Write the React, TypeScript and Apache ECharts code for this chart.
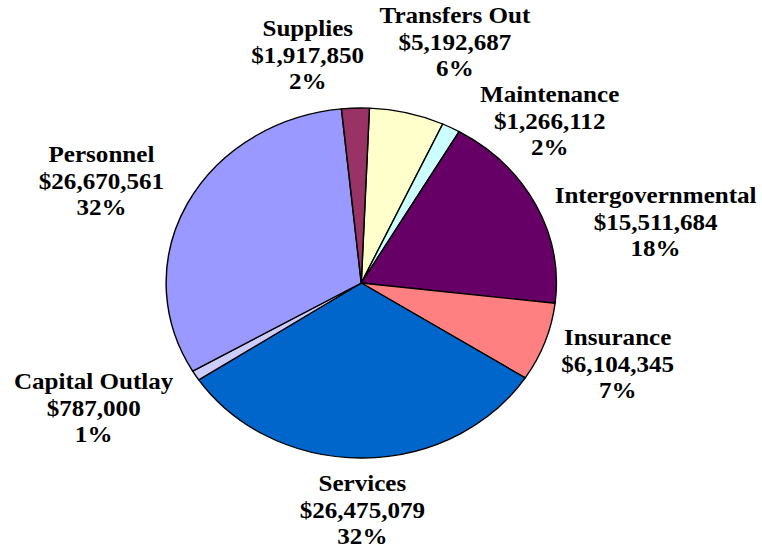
import React, { useEffect, useRef } from "react";
import * as echarts from "echarts";

const categories = [
  "Transfers Out",
  "Maintenance",
  "Intergovernmental",
  "Insurance",
  "Services",
  "Capital Outlay",
  "Personnel",
  "Supplies",
];
const amounts = [5192687, 1266112, 15511684, 6104345, 26475079, 787000, 26670561, 1917850];
const colors = ["#FFFFCC", "#CCFFFF", "#660066", "#FF8080", "#0066CC", "#CCCCFF", "#9999FF", "#993366"];

// label anchor positions (chart pixel coordinates, before horizontal stretch)
const labelPos: [number, number][] = [
  [408, 42],
  [493, 121],
  [588, 222],
  [554, 364],
  [325, 510],
  [84, 408],
  [91, 181],
  [276, 55],
];

const STRETCH = 1.115;
const W = Math.round(762 / STRETCH);
const H = 552;
const FONT = "'Liberation Serif', 'Times New Roman', serif";

function fmtMoney(v: number): string {
  return "$" + v.toLocaleString("en-US");
}

export default function App() {
  const ref = useRef<HTMLDivElement>(null);
  useEffect(() => {
    if (!ref.current) return;
    const chart = echarts.init(ref.current, undefined, { renderer: "svg" });
    chart.setOption({
      animation: false,
      backgroundColor: "#ffffff",
      textStyle: { fontFamily: FONT, fontWeight: "bold" },
      series: [
        {
          type: "pie",
          center: [324, 283],
          radius: 175,
          startAngle: 87.6,
          clockwise: true,
          avoidLabelOverlap: false,
          itemStyle: { borderColor: "#000000", borderWidth: 1.3 },
          label: {
            show: true,
            position: "outside",
            color: "#000000",
            fontFamily: FONT,
            fontWeight: "bold",
            fontSize: 22.5,
            lineHeight: 26.5,
            align: "center",
            formatter: (p: any) =>
              `${p.name}\n${fmtMoney(p.value)}\n${Math.round(p.percent)}%`,
          },
          labelLine: { show: false },
          labelLayout: (p: any) => ({
            x: labelPos[p.dataIndex][0],
            y: labelPos[p.dataIndex][1],
            align: "center",
            verticalAlign: "middle",
          }),
          emphasis: { disabled: true },
          data: categories.map((c, i) => ({
            name: c,
            value: amounts[i],
            itemStyle: { color: colors[i] },
          })),
        },
      ],
    });
    return () => chart.dispose();
  }, []);
  return (
    <div
      style={{
        position: "fixed",
        left: 0,
        top: 0,
        width: 762,
        height: H,
        overflow: "hidden",
        background: "#fff",
      }}
    >
      <div
        ref={ref}
        style={{
          width: W,
          height: H,
          transform: `scaleX(${STRETCH})`,
          transformOrigin: "0 0",
        }}
      />
    </div>
  );
}
